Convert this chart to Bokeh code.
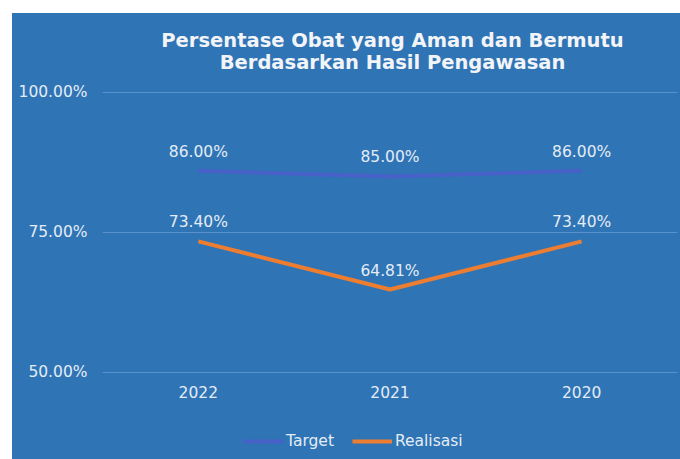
from bokeh.plotting import figure
from bokeh.models import (FactorRange, Range1d, FixedTicker, PrintfTickFormatter,
                          Legend, LegendItem, ColumnDataSource, Label)
from bokeh.core.properties import value
from bokeh.embed import file_html
from bokeh.resources import INLINE

years = ["2022", "2021", "2020"]
target = [86.00, 85.00, 86.00]
realisasi = [73.40, 64.81, 73.40]
y_ticks = [50, 75, 100]
title_lines = ["Persentase Obat yang Aman dan Bermutu", "Berdasarkan Hasil Pengawasan"]

BG = "#2f74b5"
TXT = "#e4ecf6"
FONT = "DejaVu Sans"

# value axis shows 50..100; the frame extends beyond it to hold title and legend
Y_AXIS_MIN = 50
Y_VIEW_MIN, Y_VIEW_MAX = 34.46, 114.1

src = ColumnDataSource(dict(
    x=years, t=target, r=realisasi,
    tl=[f"{v:.2f}%" for v in target],
    rl=[f"{v:.2f}%" for v in realisasi],
))

p = figure(width=668, height=446, x_range=FactorRange(*years),
           y_range=Range1d(Y_VIEW_MIN, Y_VIEW_MAX),
           output_backend="svg", toolbar_location=None,
           min_border_left=90, min_border_right=3, min_border_top=0, min_border_bottom=0,
           margin=(13, 0, 0, 12), styles={"background-color": BG})
p.background_fill_color = BG
p.border_fill_color = BG
p.outline_line_color = None

# title lines, placed in screen pixels from the frame's bottom-left corner
for txt, sy in zip(title_lines, (419, 397)):
    p.add_layout(Label(x=290, y=sy, x_units="screen", y_units="screen", text=txt,
                       text_align="center", text_baseline="middle",
                       text_font=FONT, text_font_style="bold", text_font_size="19.5px",
                       text_color="#f2f4f8"))

lt = p.line("x", "t", source=src, line_color="#4761c9", line_width=4)
lr = p.line("x", "r", source=src, line_color="#ed7d31", line_width=4)

for col, lab in (("t", "tl"), ("r", "rl")):
    p.text("x", col, text=lab, source=src, text_align="center", text_baseline="middle",
           y_offset=-19, text_color=TXT, text_font=value(FONT), text_font_size="15.5px")

p.xgrid.visible = False
p.ygrid.grid_line_color = "#5a90cb"
p.ygrid.grid_line_width = 1
p.yaxis.ticker = FixedTicker(ticks=y_ticks)
p.yaxis.formatter = PrintfTickFormatter(format="%.2f%%")
p.xaxis.fixed_location = Y_AXIS_MIN
for ax in (p.xaxis[0], p.yaxis[0]):
    ax.axis_line_color = None
    ax.major_tick_line_color = None
    ax.minor_tick_line_color = None
    ax.major_label_text_color = TXT
    ax.major_label_text_font = FONT
    ax.major_label_text_font_size = "15.5px"
p.yaxis.major_label_standoff = 9
p.xaxis.major_label_standoff = 8

legend = Legend(items=[LegendItem(label="Target", renderers=[lt]),
                       LegendItem(label="Realisasi", renderers=[lr])],
                orientation="horizontal", location=(141, 9),
                background_fill_alpha=0, border_line_color=None,
                label_text_color=TXT, label_text_font=FONT, label_text_font_size="15.5px",
                glyph_width=40, glyph_height=18, label_standoff=3, spacing=18,
                padding=0, margin=0)
p.add_layout(legend, "center")

open("out.html", "w").write(file_html(p, INLINE))
